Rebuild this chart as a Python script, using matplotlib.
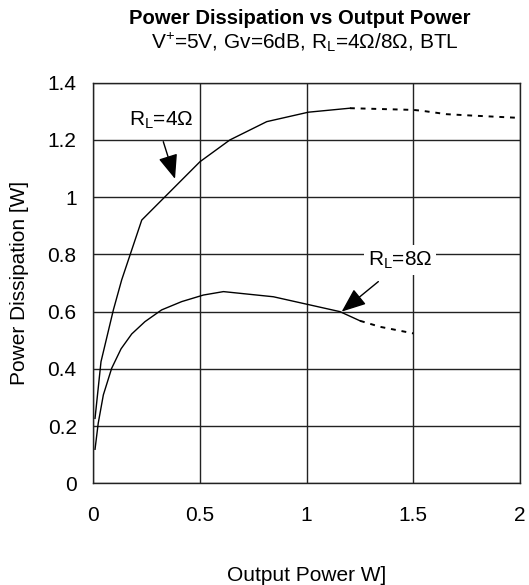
import matplotlib
matplotlib.use("Agg")
import matplotlib.pyplot as plt

plt.rcParams['font.family'] = ['Liberation Sans', 'DejaVu Sans']
plt.rcParams['mathtext.default'] = 'regular'

# 4 ohm curve (solid) and its dotted extension
x4_solid = [0.008, 0.036, 0.094, 0.133, 0.227, 0.50, 0.64, 0.813, 1.008, 1.203]
y4_solid = [0.227, 0.425, 0.606, 0.711, 0.920, 1.124, 1.20, 1.264, 1.297, 1.311]
x4_dot = [1.203, 1.50, 1.54, 1.656, 1.78, 2.0]
y4_dot = [1.311, 1.305, 1.302, 1.29, 1.285, 1.277]

# 8 ohm curve (solid) and its dotted extension
x8_solid = [0.008, 0.023, 0.047, 0.086, 0.13, 0.18, 0.242, 0.32, 0.414, 0.516, 0.61, 0.844, 1.156, 1.25]
y8_solid = [0.119, 0.21, 0.309, 0.402, 0.47, 0.522, 0.565, 0.606, 0.635, 0.658, 0.670, 0.652, 0.60, 0.568]
x8_dot = [1.25, 1.344, 1.50]
y8_dot = [0.568, 0.547, 0.524]

xticks = [0, 0.5, 1, 1.5, 2]
xticklabels = ['0', '0.5', '1', '1.5', '2']
yticks = [0, 0.2, 0.4, 0.6, 0.8, 1.0, 1.2, 1.4]
yticklabels = ['0', '0.2', '0.4', '0.6', '0.8', '1', '1.2', '1.4']

fig = plt.figure(figsize=(5.29, 5.85), dpi=100)
ax = fig.add_axes([0.1764, 0.1738, 0.983 - 0.1764, 0.8586 - 0.1738])

ax.plot(x4_solid, y4_solid, color='black', lw=1.0)
ax.plot(x4_dot, y4_dot, color='black', lw=1.4, linestyle=(0, (2.5, 3)))
ax.plot(x8_solid, y8_solid, color='black', lw=1.0)
ax.plot(x8_dot, y8_dot, color='black', lw=1.4, linestyle=(0, (2.5, 3)))

ax.set_xlim(0, 2)
ax.set_ylim(0, 1.4)
ax.set_xticks(xticks)
ax.set_xticklabels(xticklabels)
ax.set_yticks(yticks)
ax.set_yticklabels(yticklabels)
ax.tick_params(length=0, labelsize=15)
ax.tick_params(axis='x', pad=16.5)
ax.tick_params(axis='y', pad=12)
ax.grid(True, color='#222222', lw=1.0)
ax.set_axisbelow(True)
for s in ax.spines.values():
    s.set_color('#222222')
    s.set_linewidth(1.0)

arrow = dict(arrowstyle='-|>,head_length=1.0,head_width=0.4', color='black', lw=1.0,
             shrinkA=0, shrinkB=0)
ax.annotate('', xy=(0.383, 1.064), xytext=(0.328, 1.194), arrowprops=arrow, fontsize=15)
ax.text(0.32, 1.27, 'R$_L$=4Ω', fontsize=15, ha='center', va='center',
        bbox=dict(facecolor='white', edgecolor='none', pad=3))
ax.annotate('', xy=(1.164, 0.60), xytext=(1.336, 0.705), arrowprops=arrow, fontsize=15)
ax.text(1.4375, 0.78, 'R$_L$=8Ω', fontsize=15, ha='center', va='center',
        bbox=dict(facecolor='white', edgecolor='none', pad=3))

ax.set_xlabel('Output Power W]', fontsize=15, labelpad=29)
ax.set_ylabel('Power Dissipation [W]', fontsize=15, labelpad=13)

fig.text(0.567, 1 - 19 / 585, 'Power Dissipation vs Output Power', fontsize=14.6,
         fontweight='bold', ha='center', va='center')
fig.text(0.576, 1 - 42 / 585, 'V$^{+}$=5V, Gv=6dB, R$_L$=4Ω/8Ω, BTL', fontsize=15,
         ha='center', va='center')

fig.savefig('out.png', dpi=100)
